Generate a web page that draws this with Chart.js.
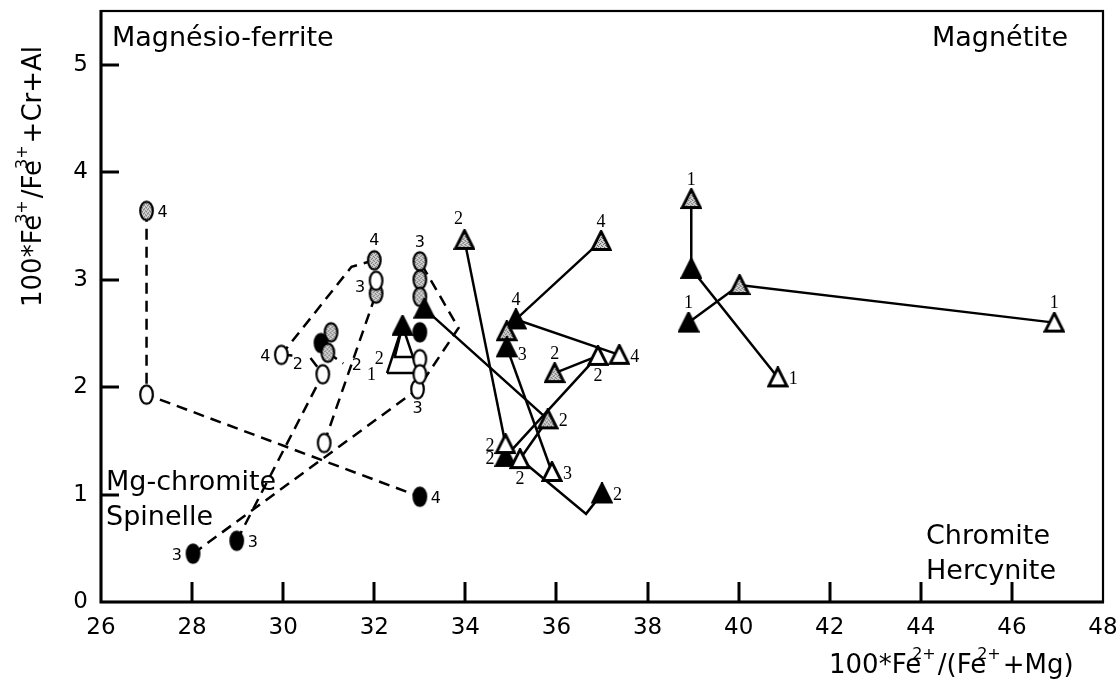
<!DOCTYPE html>
<html>
<head>
<meta charset="utf-8">
<script src="https://cdn.jsdelivr.net/npm/chart.js@4.4.1/dist/chart.umd.min.js"></script>
<style>
    html, body { margin: 0; padding: 0; background: #fff; }
    #wrap { width: 1120px; height: 691px; }
</style>
</head>
<body>
<div id="wrap"><canvas id="spinelChart" width="1120" height="691"></canvas></div>
<script>
// axis ticks
const X_TICKS = [26, 28, 30, 32, 34, 36, 38, 40, 42, 44, 46, 48];
const Y_TICKS = [0, 1, 2, 3, 4, 5];

// circle symbols (dashed traverses)
// sym: o = open, g = stippled, b = black, '' = bend, no symbol
const circX   = [27.00, 27.00, 33.00, 28.02, 32.95, 33.85, 33.00, 28.98, 30.87, 30.90, 32.04, 32.00,
                 31.50, 29.96, 32.04, 31.05, 30.83, 30.98, 33.00, 33.00, 33.00, 33.00, 33.00,
                 30.32, 30.60, 31.32];
const circY   = [3.64, 1.93, 0.98, 0.45, 1.98, 2.55, 3.17, 0.57, 2.12, 1.48, 2.87, 3.18,
                 3.12, 2.30, 2.99, 2.51, 2.41, 2.32, 3.00, 2.84, 2.51, 2.26, 2.12,
                 2.29, 2.27, 2.22];
const circSym = ['g', 'o', 'b', 'b', 'o', '', 'g', 'b', 'o', 'o', 'g', 'g',
                 '', 'o', 'o', 'g', 'b', 'g', 'g', 'g', 'b', 'o', 'o',
                 '', '', ''];
const circLab = ['4', '', '4', '3', '3', '', '3', '3', '2', '', '3', '4',
                 '', '4', '', '', '', '2', '', '', '', '', '',
                 '', '', ''];
const dashedRuns = [[0, 1, 2], [3, 4, 5, 6], [7, 8], [9, 10], [11, 12, 13],
                    [13, 23], [24, 8], [17, 25]];

// triangle symbols (solid traverses)
const triX   = [33.98, 34.88, 36.98, 35.11, 37.38, 34.91, 34.91, 35.90, 35.96, 36.91, 35.20, 33.10,
                35.81, 34.88, 36.65, 37.00, 38.96, 38.96, 40.86, 38.90, 40.02, 46.93,
                32.28, 32.62, 32.97, 32.45, 32.97];
const triY   = [3.37, 1.35, 3.36, 2.63, 2.30, 2.52, 2.37, 1.21, 2.13, 2.29, 1.33, 2.73,
                1.70, 1.47, 0.82, 1.01, 3.75, 3.10, 2.09, 2.60, 2.95, 2.60,
                2.13, 2.57, 2.13, 2.28, 2.28];
const triSym = ['g', 'b', 'g', 'b', 'o', 'g', 'b', 'o', 'g', 'o', 'o', 'b',
                'g', 'o', '', 'b', 'g', 'b', 'o', 'b', 'g', 'o',
                '', 'b', '', '', ''];
const triLab = ['2', '2', '4', '4', '4', '', '3', '3', '2', '2', '2', '',
                '2', '2', '', '2', '1', '', '1', '1', '', '1',
                '1', '', '', '2', ''];
const solidRuns = [[0, 13], [8, 9, 1], [2, 3, 4], [6, 7], [11, 12, 10], [10, 14, 15],
                   [16, 17, 18], [19, 20, 21], [22, 23, 24, 22], [26, 25, 23]];

// field names
const FIELDS = ['Magnésio-ferrite', 'Magnétite', 'Mg-chromite', 'Spinelle', 'Chromite', 'Hercynite'];


// ---- layout / styling ----
const SANS  = "'DejaVu Sans', sans-serif";
const SERIF = "'Liberation Serif', serif";

const circSide = ['r', '', 'r', 'l', 'b', '', 't', 'r', 'ul', '', 'lt', 't',
                  '', 'l', '', '', '', 'dr', '', '', '', '', '',
                  '', '', ''];
const triSide  = ['tl', 'l', 't', 't', 'r', '', 'rb', 'r', 't', 'b', 'b', '',
                  'r', 'l', '', 'r', 't', '', 'r', 't', '', 't',
                  'l', '', '', 'l', ''];

const SIDE = {
    r:  { dx: 11,  dy: 2,   a: 'left' },
    rb: { dx: 11,  dy: 8,   a: 'left' },
    l:  { dx: -11, dy: 2,   a: 'right' },
    lt: { dx: -11, dy: -6,  a: 'right' },
    t:  { dx: 0,   dy: -19, a: 'center' },
    b:  { dx: 0,   dy: 20,  a: 'center' },
    tl: { dx: -6,  dy: -21, a: 'center' },
    ul: { dx: -25, dy: -9,  a: 'center' },
    dr: { dx: 29,  dy: 13,  a: 'center' }
};

function stipple() {
    const p = document.createElement('canvas');
    p.width = 4; p.height = 4;
    const c = p.getContext('2d');
    c.fillStyle = '#d4d4d4';
    c.fillRect(0, 0, 4, 4);
    c.fillStyle = '#555';
    c.fillRect(0, 0, 1, 1);
    c.fillRect(2, 1, 1, 1);
    c.fillRect(1, 2, 1, 1);
    c.fillRect(3, 3, 1, 1);
    return p;
}

function makeMarker(shape, kind) {
    const cv = document.createElement('canvas');
    const c = cv.getContext('2d');
    if (shape === 'circle') {
        cv.width = 17; cv.height = 23;
        c.beginPath();
        c.ellipse(8.5, 11.5, 6.3, 9.2, 0, 0, Math.PI * 2);
    } else {
        cv.width = 22; cv.height = 22;
        c.beginPath();
        c.moveTo(11, 1.5);
        c.lineTo(20, 19.5);
        c.lineTo(2, 19.5);
        c.closePath();
    }
    if (kind === 'b') c.fillStyle = '#000';
    else if (kind === 'g') c.fillStyle = c.createPattern(stipple(), 'repeat');
    else c.fillStyle = '#fff';
    c.fill();
    c.lineWidth = shape === 'circle' ? 2.2 : 2.8;
    c.lineJoin = 'miter';
    c.strokeStyle = '#000';
    c.stroke();
    return cv;
}

const MARKS = {
    circle:   { o: makeMarker('circle', 'o'), g: makeMarker('circle', 'g'), b: makeMarker('circle', 'b') },
    triangle: { o: makeMarker('tri', 'o'),    g: makeMarker('tri', 'g'),    b: makeMarker('tri', 'b') }
};

function lineSets(xs, ys, runs, dash) {
    return runs.map(run => ({
        data: run.map(i => ({ x: xs[i], y: ys[i] })),
        showLine: true,
        pointRadius: 0,
        borderColor: '#000',
        borderWidth: 2.5,
        borderDash: dash,
        fill: false,
        tension: 0,
        order: 2
    }));
}

function markerSet(xs, ys, syms, shape) {
    const idx = syms.map((s, i) => i).filter(i => syms[i]);
    return {
        data: idx.map(i => ({ x: xs[i], y: ys[i] })),
        showLine: false,
        pointRadius: 8,
        pointStyle: idx.map(i => MARKS[shape][syms[i]]),
        order: 1
    };
}

const datasets = [
    markerSet(triX, triY, triSym, 'triangle'),
    markerSet(circX, circY, circSym, 'circle'),
    ...lineSets(circX, circY, dashedRuns, [11, 7]),
    ...lineSets(triX, triY, solidRuns, [])
];

// frame + inward tick marks
const framePlugin = {
    id: 'framePlugin',
    beforeDatasetsDraw(chart) {
        const { ctx, chartArea: a, scales } = chart;
        ctx.save();
        ctx.strokeStyle = '#000';
        ctx.lineWidth = 2.2;
        ctx.strokeRect(a.left, a.top, a.right - a.left, a.bottom - a.top);
        ctx.lineWidth = 3;
        ctx.beginPath();
        ctx.moveTo(a.left, a.top - 1);
        ctx.lineTo(a.left, a.bottom);
        ctx.lineTo(a.right + 1, a.bottom);
        X_TICKS.slice(1, -1).forEach(v => {
            const px = Math.round(scales.x.getPixelForValue(v));
            ctx.moveTo(px, a.bottom);
            ctx.lineTo(px, a.bottom - 20);
        });
        Y_TICKS.slice(1).forEach(v => {
            const py = Math.round(scales.y.getPixelForValue(v));
            ctx.moveTo(a.left, py);
            ctx.lineTo(a.left + 18, py);
        });
        ctx.stroke();
        ctx.restore();
    }
};

// text with superscripts tucked over the preceding letter
function drawRich(ctx, parts, x, y, size) {
    let cx = x;
    parts.forEach(([txt, sup]) => {
        if (sup) {
            ctx.font = Math.round(size * 0.6) + 'px ' + SANS;
            ctx.fillText(txt, cx - 9, y - size * 0.55);
            cx += ctx.measureText(txt).width - 7;
        } else {
            ctx.font = size + 'px ' + SANS;
            ctx.fillText(txt, cx, y);
            cx += ctx.measureText(txt).width;
        }
    });
}

const textPlugin = {
    id: 'textPlugin',
    afterDatasetsDraw(chart) {
        const { ctx, scales } = chart;
        ctx.save();
        ctx.fillStyle = '#000';

        // point numbers
        ctx.textBaseline = 'middle';
        const put = (xs, ys, labs, sides, font) => {
            ctx.font = font;
            labs.forEach((t, i) => {
                if (!t) return;
                const o = SIDE[sides[i]];
                ctx.textAlign = o.a;
                ctx.fillText(t, scales.x.getPixelForValue(xs[i]) + o.dx,
                                scales.y.getPixelForValue(ys[i]) + o.dy);
            });
        };
        put(circX, circY, circLab, circSide, '16px ' + SANS);
        put(triX, triY, triLab, triSide, '18px ' + SERIF);

        // field names
        ctx.textBaseline = 'alphabetic';
        ctx.textAlign = 'left';
        ctx.font = '27px ' + SANS;
        ctx.fillText(FIELDS[0], 112, 46);
        ctx.fillText(FIELDS[1], 932, 46);
        ctx.fillText(FIELDS[2], 106, 490);
        ctx.fillText(FIELDS[3], 106, 525);
        ctx.fillText(FIELDS[4], 926, 544);
        ctx.fillText(FIELDS[5], 926, 579);

        // axis titles
        drawRich(ctx, [['100*Fe', false], ['2+', true], ['/(Fe', false], ['2+', true], ['+Mg)', false]],
                 829, 673, 26);
        ctx.translate(41, 307);
        ctx.rotate(-Math.PI / 2);
        drawRich(ctx, [['100*Fe', false], ['3+', true], ['/Fe', false], ['3+', true], ['+Cr+Al', false]],
                 0, 0, 26);
        ctx.restore();
    }
};

new Chart(document.getElementById('spinelChart'), {
    type: 'scatter',
    data: { datasets },
    options: {
        responsive: false,
        animation: false,
        devicePixelRatio: 1,
        layout: { padding: { top: 11, right: 17, left: 0, bottom: 0 } },
        plugins: { legend: { display: false }, tooltip: { enabled: false } },
        scales: {
            x: {
                type: 'linear', min: 26, max: 48,
                afterFit: s => { s.height = 89; s.paddingLeft = 0; s.paddingRight = 0; },
                afterBuildTicks: s => { s.ticks = X_TICKS.map(v => ({ value: v })); },
                grid: { display: false, drawTicks: false },
                border: { display: false },
                ticks: { font: { family: SANS, size: 23 }, color: '#000', padding: 12,
                         maxRotation: 0, autoSkip: false }
            },
            y: {
                type: 'linear', min: 0, max: 5.5,
                afterFit: s => { s.width = 101; s.paddingTop = 0; s.paddingBottom = 0; },
                afterBuildTicks: s => { s.ticks = Y_TICKS.map(v => ({ value: v })); },
                grid: { display: false, drawTicks: false },
                border: { display: false },
                ticks: { font: { family: SANS, size: 23 }, color: '#000', padding: 13 }
            }
        }
    },
    plugins: [framePlugin, textPlugin]
});
</script>
</body>
</html>
